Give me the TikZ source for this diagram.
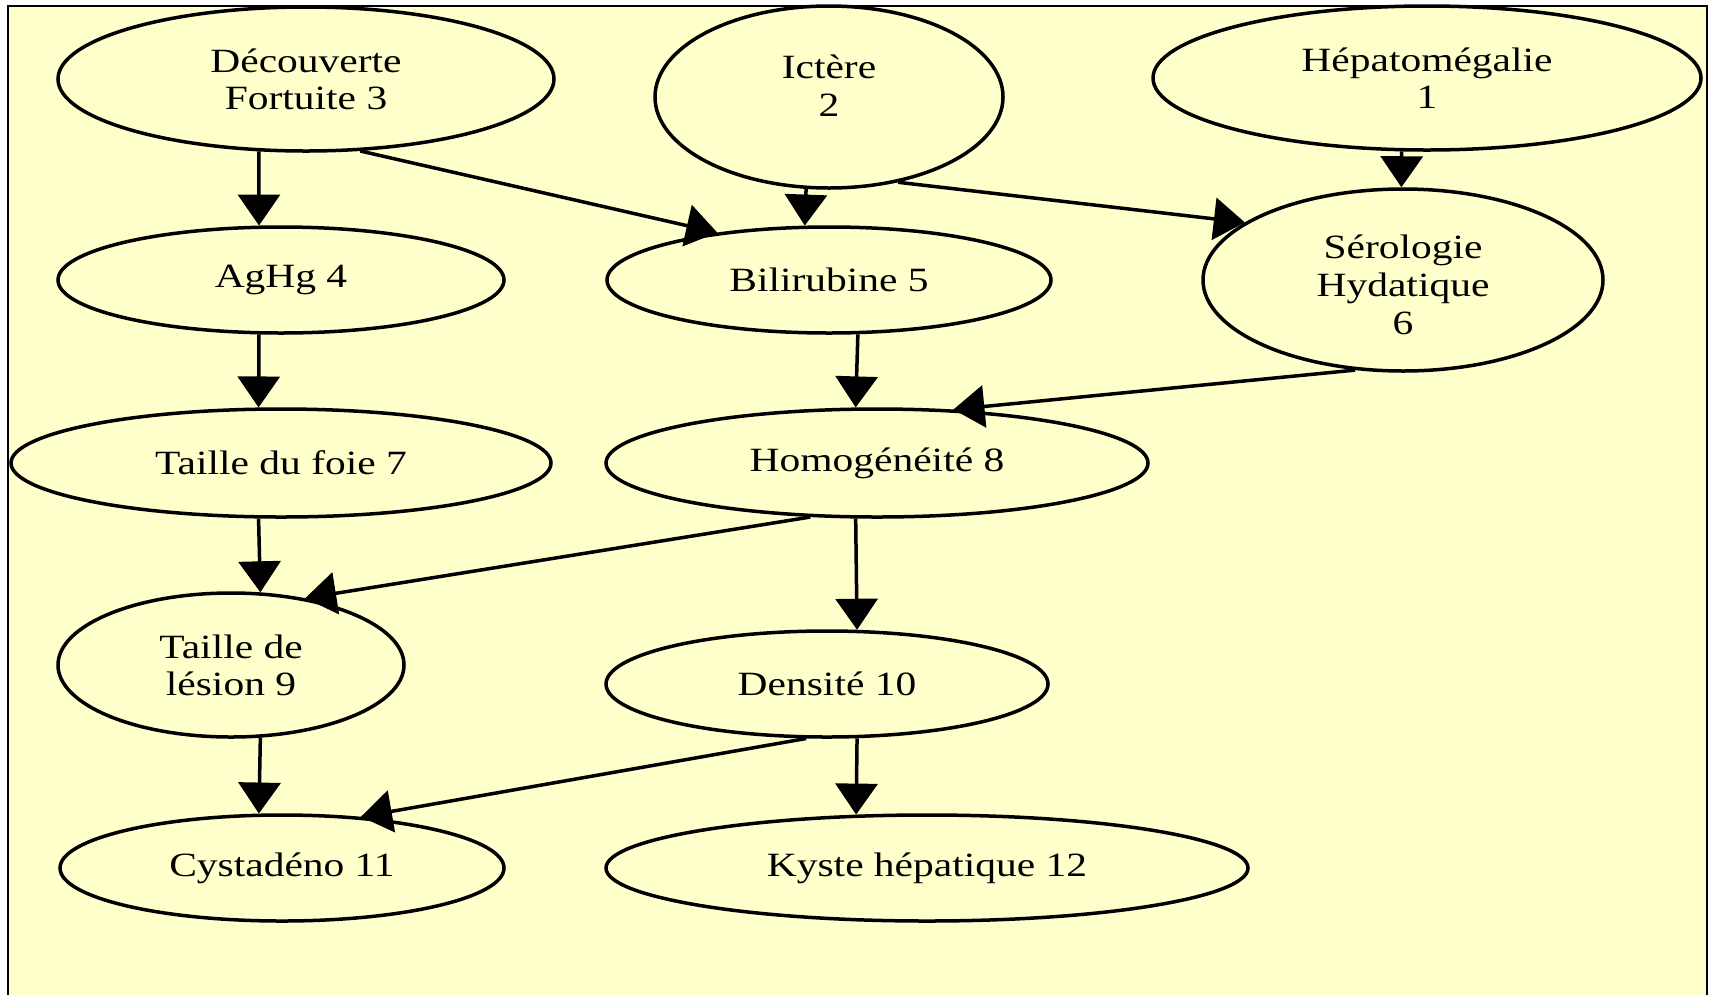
\documentclass[tikz,border=0pt]{standalone}
\usepackage{fontspec}
\setmainfont{Liberation Serif}[FakeStretch=1.22]
\usetikzlibrary{shapes.geometric,arrows.meta}
\definecolor{paper}{HTML}{FFFFCC}
\begin{document}
\begin{tikzpicture}[x=1pt,y=-1pt,
  box/.style={ellipse, draw, line width=3.5pt, inner sep=0pt, align=center,
              font=\fontsize{34}{37}\selectfont},
  boxtext/.style={align=center, inner sep=0pt, font=\fontsize{34}{38}\selectfont},
  arr/.style={line width=3.5pt, -{Triangle[length=31pt,width=42pt]}}]
\useasboundingbox (0,0) rectangle (1712,994);
\clip (0,0) rectangle (1712,994);
\fill[white] (0,0) rectangle (1712,994);
% framed page background
\filldraw[fill=paper, draw=black, line width=2pt] (8,6) rectangle (1707,1010);

% first row
\node[box, minimum width=496pt, minimum height=144pt] (n3) at (306,79) {Découverte\\Fortuite 3};
\node[box, minimum width=348pt, minimum height=182pt,
      label={[boxtext, yshift=11pt]center:{Ictère\\2}}] (n2) at (829,97) {};
\node[box, minimum width=548pt, minimum height=144pt] (n1) at (1427,78) {Hépatomégalie\\1};
% second row
\node[box, minimum width=446pt, minimum height=106pt] (n4) at (281,280) {AgHg 4};
\node[box, minimum width=444pt, minimum height=106pt] (n5) at (829,280) {Bilirubine 5};
\node[box, minimum width=400pt, minimum height=182pt,
      label={[boxtext, yshift=-5pt]center:{Sérologie\\Hydatique\\6}}] (n6) at (1403,280) {};
% third row
\node[box, minimum width=540pt, minimum height=108pt] (n7) at (281,463) {Taille du foie 7};
\node[box, minimum width=542pt, minimum height=108pt] (n8) at (877,463) {Homogénéité 8};
% fourth row
\node[box, minimum width=346pt, minimum height=144pt] (n9) at (231,665) {Taille de\\lésion 9};
\node[box, minimum width=442pt, minimum height=106pt] (n10) at (827,684) {Densité 10};
% fifth row
\node[box, minimum width=444pt, minimum height=106pt] (n11) at (282,868) {Cystadéno 11};
\node[box, minimum width=642pt, minimum height=106pt] (n12) at (927,868) {Kyste hépatique 12};

% connectors
\draw[arr] (n3.-123.6) -- (n4.112.65);
\draw[arr] (n3.-53.9) -- (n5.157);
\draw[arr] (n2.-104.9) -- (n5.114.5);
\draw[arr] (n2.-51.4) -- (n6.160.9);
\draw[arr] (n1.-109.9) -- (n6.91.3);
\draw[arr] (n4.-112.65) -- (n7.112.2);
\draw[arr] (n5.-62.8) -- (n8.111.3);
\draw[arr] (n6.-118.5) -- (n8.35.4);
\draw[arr] (n7.-112.2) -- (n9.68.5);
\draw[arr] (n8.-141.5) -- (n9.42.7);
\draw[arr] (n8.-111.3) -- (n10.61.1);
\draw[arr] (n9.-68.5) -- (n11.113.6);
\draw[arr] (n10.-111.6) -- (n11.33.2);
\draw[arr] (n10.-61.1) -- (n12.143.9);
\end{tikzpicture}
\end{document}
